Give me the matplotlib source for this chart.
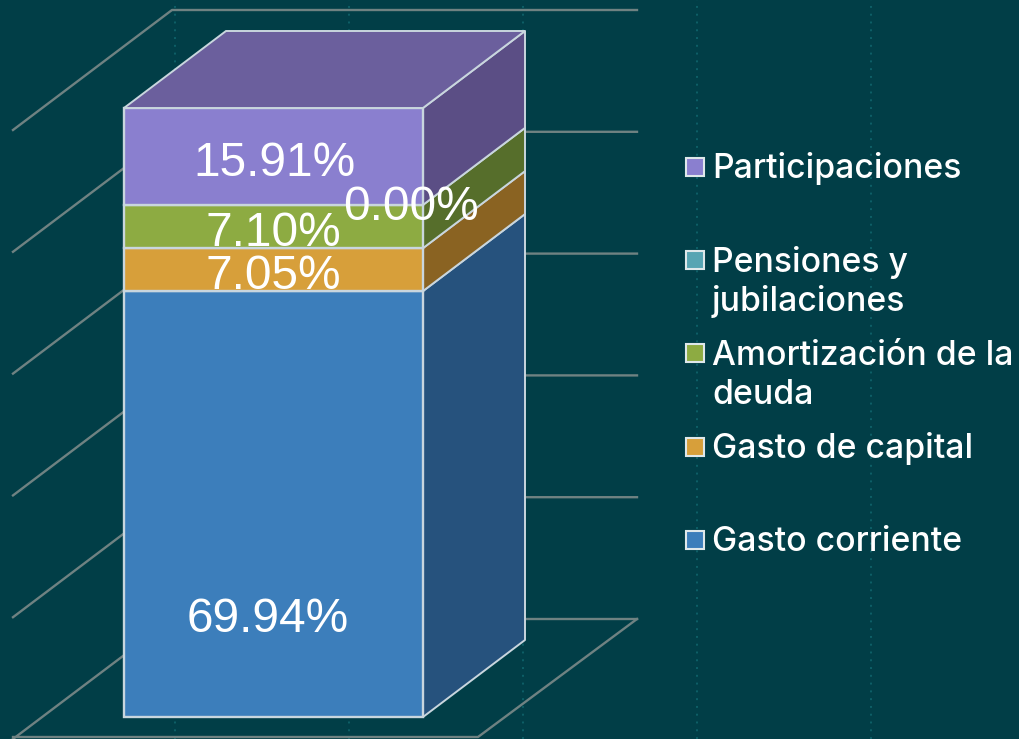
import numpy as np
import matplotlib
matplotlib.use('Agg')
import matplotlib.pyplot as plt
from matplotlib.patches import Polygon, Rectangle

# data, bottom to top of the stack
categories = ['Gasto corriente', 'Gasto de capital', 'Amortización de la\ndeuda', 'Pensiones y\njubilaciones', 'Participaciones']
values = [69.94, 7.05, 7.10, 0.00, 15.91]
value_labels = ['69.94%', '7.05%', '7.10%', '0.00%', '15.91%']
grid_values = [0, 20, 40, 60, 80, 100]

front_colors = ['#3c7ebb', '#d79f3a', '#8dab42', '#57a5b3', '#8a7fcf']
side_colors = ['#26527d', '#8a6322', '#566e2b', '#3a6f78', '#5b4e85']
top_color = '#6b5f9d'
bg = '#013e47'
edge = '#c9d6de'
grid_color = '#6f8282'

# pixel layout of the picture
W, H = 1019, 739
PX_PER_UNIT = 6.09
Y0 = 717
bar_left, bar_right = 124, 423
depth_x, depth_y = 102, 77


def to_y(px):
    # picture row -> value on the y axis
    return (Y0 - px) / PX_PER_UNIT


fig = plt.figure(figsize=(W / 100, H / 100), dpi=100, facecolor=bg)
ax = fig.add_axes([0, 0, 1, 1])
ax.set_xlim(0, W)
ax.set_ylim(to_y(H), to_y(0))
ax.axis('off')

# dotted vertical lines behind everything
for x in [175, 349, 523, 697, 871]:
    ax.plot([x, x], [to_y(H), to_y(0)], color='#0e5f67', lw=1.4, ls=(0, (1, 3)), zorder=1)

# back wall and side wall grid
wall_dy = depth_y / PX_PER_UNIT
for v in grid_values:
    y_back = v + to_y(619)
    ax.plot([13, 172, 637], [y_back - 120 / PX_PER_UNIT, y_back, y_back], color=grid_color, lw=1.7, zorder=2)
# floor
ax.plot([13, 478, 637], [to_y(737), to_y(737), to_y(619)], color=grid_color, lw=1.7, zorder=2)

# stacked 3d bar
tops = np.cumsum(values)
bottoms = tops - np.array(values)
for i, cat in enumerate(categories):
    y0, y1 = bottoms[i], tops[i]
    if values[i] == 0:
        continue
    ax.add_patch(Polygon([(bar_right, y0), (bar_right + depth_x, y0 + wall_dy), (bar_right + depth_x, y1 + wall_dy), (bar_right, y1)],
                         facecolor=side_colors[i], edgecolor=edge, lw=1.4, zorder=3, joinstyle='round'))
    ax.add_patch(Rectangle((bar_left, y0), bar_right - bar_left, y1 - y0,
                           facecolor=front_colors[i], edgecolor=edge, lw=1.7, zorder=4))
ax.add_patch(Polygon([(bar_left, tops[-1]), (bar_right, tops[-1]), (bar_right + depth_x, tops[-1] + wall_dy), (bar_left + depth_x, tops[-1] + wall_dy)],
                     facecolor=top_color, edgecolor=edge, lw=1.4, zorder=4))

# value labels
label_x = [187, 206, 206, 343, 193]
label_base = [632, 289, 246, 220, 176]
for i, txt in enumerate(value_labels):
    ax.text(label_x[i], to_y(label_base[i]), txt, color='white', fontsize=34.4, family='Liberation Sans',
            ha='left', va='baseline', zorder=6)

# legend, drawn top to bottom
swatch_y = [540, 447, 353, 260, 167]
legend_base = [551, 458, 365, 272, 178]
for i, cat in enumerate(categories):
    s = 18 / PX_PER_UNIT
    ax.add_patch(Rectangle((686, to_y(swatch_y[i]) - s / 2), 18, s, facecolor=front_colors[i],
                           edgecolor='#dfe8ea', lw=1.5, zorder=5))
    for j, line in enumerate(cat.split('\n')):
        ax.text(712, to_y(legend_base[i] + 39 * j), line, color='white', fontsize=24.3, family='Inter',
                fontweight='medium', ha='left', va='baseline', zorder=6)

fig.savefig('out.png', dpi=100, facecolor=bg)
